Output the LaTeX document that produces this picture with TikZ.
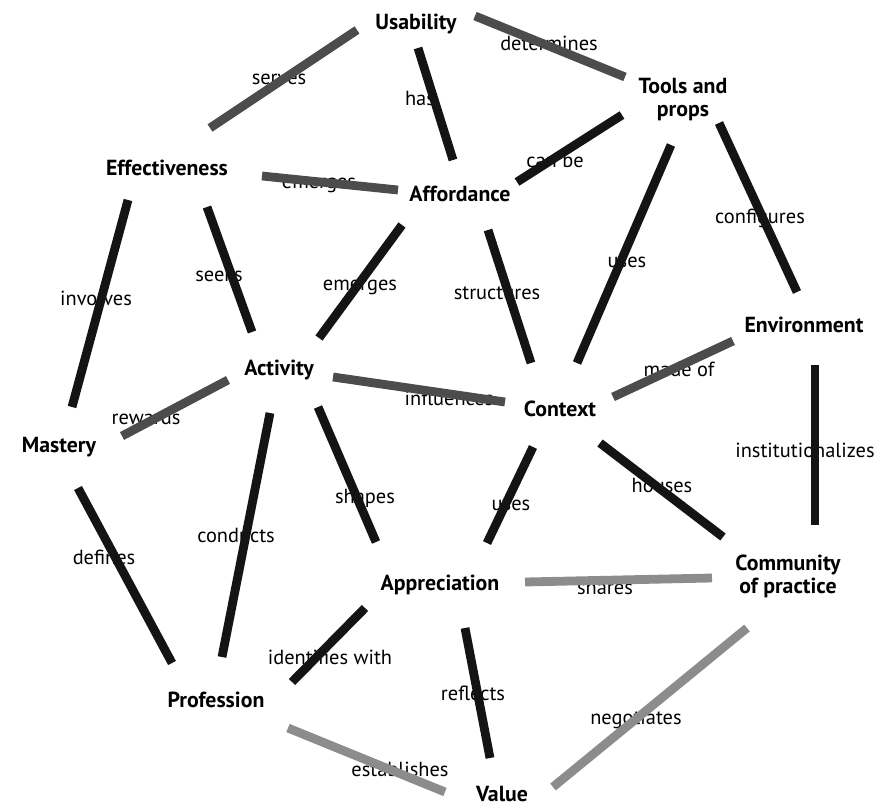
\documentclass[tikz,border=0pt]{standalone}
\usepackage{fontspec}
\setmainfont{PT Sans}
\usetikzlibrary{positioning}

\begin{document}
\begin{tikzpicture}[
  x=0.5pt, y=-0.5pt,
  font=\fontsize{10.2}{11.5}\selectfont,
  concept/.style={font=\fontsize{10.9}{11.5}\selectfont\bfseries, align=center, inner sep=1pt},
  verb/.style={inner sep=1pt},
  link/.style={line width=4.4pt, draw=black!92},
  softlink/.style={line width=4.4pt, draw=black!70},
  faintlink/.style={line width=4.4pt, draw=black!45}
]
\useasboundingbox (0,0) rectangle (890,808);

% Concepts
\node[concept] (usa) at (416,24) {Usability};
\node[concept] (tools) at (683,100) {Tools and\\props};
\node[concept] (eff) at (167,168) {Effectiveness};
\node[concept] (aff) at (460,194) {Affordance};
\node[concept] (env) at (804,325) {Environment};
\node[concept] (act) at (279,370) {Activity};
\node[concept] (ctx) at (560,409) {Context};
\node[concept] (mas) at (59,447) {Mastery};
\node[concept] (app) at (440,585) {Appreciation};
\node[concept] (com) at (788,576) {Community\\of practice};
\node[concept] (pro) at (216,700) {Profession};
\node[concept] (val) at (502,794) {Value};

% Link words (the bars run over them)
\node[verb] (v-serves) at (279,79) {serves};
\node[verb] (v-has) at (420,98) {has};
\node[verb] (v-determines) at (549,43) {determines};
\node[verb] (v-emerges1) at (319,185) {emerges};
\node[verb] (v-canbe) at (555,160) {can be};
\node[verb] (v-involves) at (96,298) {involves};
\node[verb] (v-seeks) at (219,274) {seeks};
\node[verb] (v-emerges2) at (360,287) {emerges};
\node[verb] (v-structures) at (497,293) {structures};
\node[verb] (v-uses1) at (627,262) {uses};
\node[verb] (v-configures) at (760,218) {configures};
\node[verb] (v-influences) at (449,398) {influences};
\node[verb] (v-madeof) at (679,369) {made of};
\node[verb] (v-rewards) at (146,417) {rewards};
\node[verb] (v-institut) at (805,450) {institutionalizes};
\node[verb] (v-conducts) at (236,535) {conducts};
\node[verb] (v-shapes) at (365,498) {shapes};
\node[verb] (v-defines) at (104,557) {defines};
\node[verb] (v-uses2) at (511,505) {uses};
\node[verb] (v-houses) at (662,485) {houses};
\node[verb] (v-shares) at (605,587) {shares};
\node[verb] (v-identifies) at (330,657) {identifies with};
\node[verb] (v-reflects) at (473,693) {reflects};
\node[verb] (v-negotiates) at (636,719) {negotiates};
\node[verb] (v-establishes) at (400,769) {establishes};

% Bars between concepts
\draw[softlink] ([shift={(-59,6)}]usa.center) -- ([shift={(43,-40)}]eff.center);
\draw[link] ([shift={(2,24)}]usa.center) -- ([shift={(-7,-34)}]aff.center);
\draw[softlink] ([shift={(59,-8)}]usa.center) -- ([shift={(-58,-23)}]tools.center);
\draw[softlink] ([shift={(95,8)}]eff.center) -- ([shift={(-62,-4)}]aff.center);
\draw[link] ([shift={(57,-12)}]aff.center) -- ([shift={(-61,15)}]tools.center);
\draw[link] ([shift={(-39,32)}]eff.center) -- ([shift={(13,-40)}]mas.center);
\draw[link] ([shift={(40,39)}]eff.center) -- ([shift={(-27,-38)}]act.center);
\draw[link] ([shift={(-58,31)}]aff.center) -- ([shift={(40,-32)}]act.center);
\draw[link] ([shift={(28,36)}]aff.center) -- ([shift={(-29,-46)}]ctx.center);
\draw[link] ([shift={(-12,45)}]tools.center) -- ([shift={(17,-46)}]ctx.center);
\draw[link] ([shift={(36,23)}]tools.center) -- ([shift={(-7,-33)}]env.center);
\draw[softlink] ([shift={(54,7)}]act.center) -- ([shift={(-55,-7)}]ctx.center);
\draw[softlink] ([shift={(53,-12)}]ctx.center) -- ([shift={(-71,16)}]env.center);
\draw[softlink] ([shift={(-51,10)}]act.center) -- ([shift={(63,-11)}]mas.center);
\draw[link] ([shift={(11,40)}]env.center) -- ([shift={(27,-51)}]com.center);
\draw[link] ([shift={(-9,43)}]act.center) -- ([shift={(6,-43)}]pro.center);
\draw[link] ([shift={(39,37)}]act.center) -- ([shift={(-64,-43)}]app.center);
\draw[link] ([shift={(19,41)}]mas.center) -- ([shift={(-44,-37)}]pro.center);
\draw[link] ([shift={(-27,38)}]ctx.center) -- ([shift={(47,-42)}]app.center);
\draw[link] ([shift={(40,34)}]ctx.center) -- ([shift={(-65,-39)}]com.center);
\draw[faintlink] ([shift={(85,-3)}]app.center) -- ([shift={(-76,2)}]com.center);
\draw[link] ([shift={(-75,23)}]app.center) -- ([shift={(76,-18)}]pro.center);
\draw[link] ([shift={(25,43)}]app.center) -- ([shift={(-12,-36)}]val.center);
\draw[faintlink] ([shift={(-41,52)}]com.center) -- ([shift={(51,-7)}]val.center);
\draw[faintlink] ([shift={(72,28)}]pro.center) -- ([shift={(-57,-2)}]val.center);

\end{tikzpicture}
\end{document}
